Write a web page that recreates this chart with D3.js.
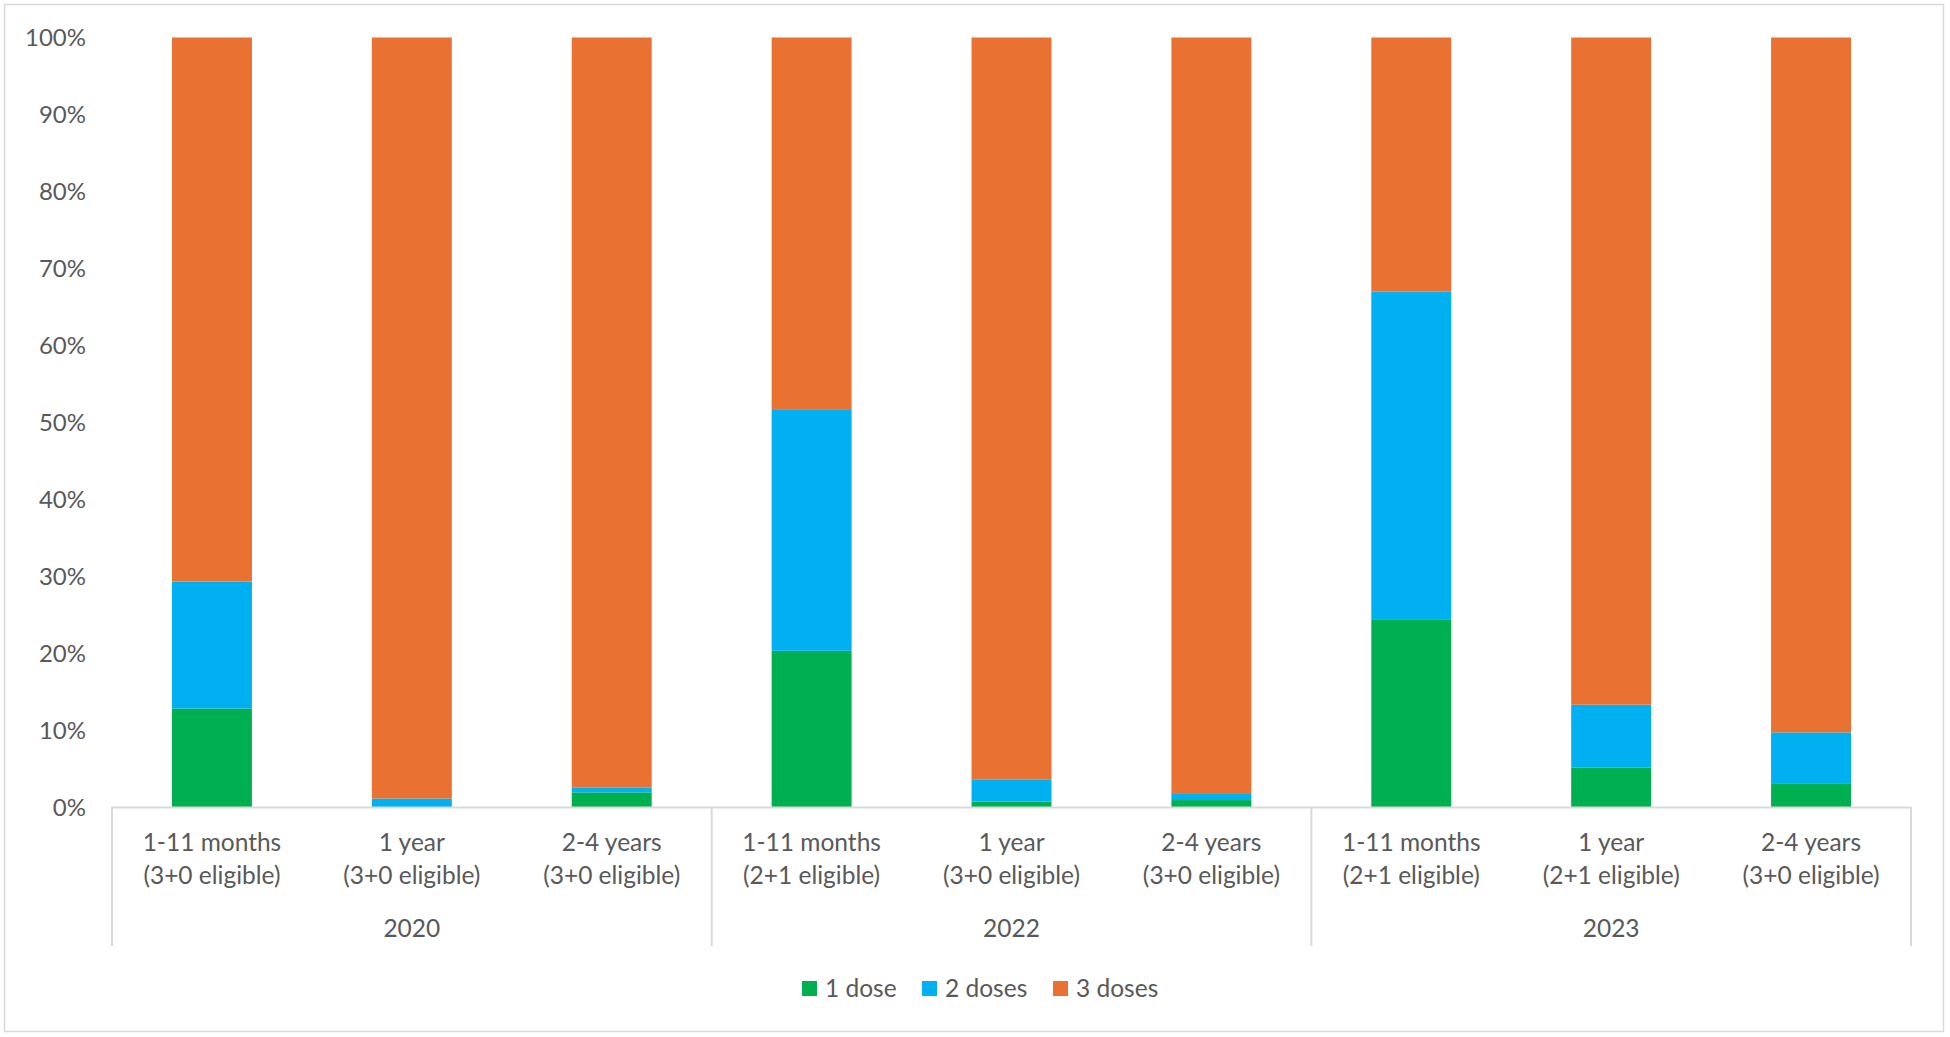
<!DOCTYPE html>
<html>
<head>
<meta charset="utf-8">
<script src="https://cdn.jsdelivr.net/npm/d3@7"></script>
<style>
  body { margin: 0; background: #fff; }
  text { font-family: Lato, "Open Sans", sans-serif; fill: #595959; }
</style>
</head>
<body>
<svg id="chart" width="1950" height="1037"></svg>
<script>
// data (percent of children)
var years = ["2020", "2022", "2023"];
var ageLabels = ["1-11 months", "1 year", "2-4 years",
                 "1-11 months", "1 year", "2-4 years",
                 "1-11 months", "1 year", "2-4 years"];
var eligLabels = ["(3+0 eligible)", "(3+0 eligible)", "(3+0 eligible)",
                  "(2+1 eligible)", "(3+0 eligible)", "(3+0 eligible)",
                  "(2+1 eligible)", "(2+1 eligible)", "(3+0 eligible)"];
var seriesNames = ["1 dose", "2 doses", "3 doses"];
var oneDose   = [12.8, 0.0, 1.9, 20.3, 0.7, 0.9, 24.4, 5.1, 3.0];
var twoDoses  = [16.5, 1.1, 0.6, 31.4, 2.9, 0.9, 42.6, 8.2, 6.7];
var threeDoses = [70.7, 98.9, 97.5, 48.3, 96.4, 98.2, 33.0, 86.7, 90.3];
var yTicks = [0, 0.1, 0.2, 0.3, 0.4, 0.5, 0.6, 0.7, 0.8, 0.9, 1];

var colors = ["#00B050", "#00B0F0", "#E97132"];
var svg = d3.select("#chart");

// outer frame
svg.append("rect")
    .attr("x", 4.5).attr("y", 4.5)
    .attr("width", 1939).attr("height", 1027)
    .attr("fill", "none")
    .attr("stroke", "#d9d9d9")
    .attr("stroke-width", 1.5);

var rows = ageLabels.map(function(a, i) {
    return { key: i, age: a, elig: eligLabels[i],
             s0: oneDose[i] / 100, s1: twoDoses[i] / 100, s2: threeDoses[i] / 100 };
});

var x = d3.scaleBand()
    .domain(rows.map(function(d) { return d.key; }))
    .range([112, 1911])
    .paddingInner(0.6)
    .paddingOuter(0.3);

var y = d3.scaleLinear().domain([0, 1]).range([807, 37.5]);

var stack = d3.stack().keys(["s0", "s1", "s2"]);
var layers = stack(rows);

svg.append("g").selectAll("g")
    .data(layers)
    .enter().append("g")
    .attr("fill", function(d, i) { return colors[i]; })
    .selectAll("rect")
    .data(function(d) { return d; })
    .enter().append("rect")
    .attr("x", function(d) { return x(d.data.key); })
    .attr("width", x.bandwidth())
    .attr("y", function(d) { return y(d[1]); })
    .attr("height", function(d) { return y(d[0]) - y(d[1]); });

// y axis labels
svg.append("g").selectAll("text")
    .data(yTicks)
    .enter().append("text")
    .attr("x", 86)
    .attr("y", function(d) { return y(d); })
    .attr("dy", "0.36em")
    .attr("text-anchor", "end")
    .style("font-size", "24px")
    .text(d3.format(".0%"));

// category axis: baseline + group separators
var step = x.step();
svg.append("line")
    .attr("x1", 112).attr("x2", 1911)
    .attr("y1", 807.5).attr("y2", 807.5)
    .attr("stroke", "#d9d9d9").attr("stroke-width", 2);

var seps = d3.range(0, years.length + 1).map(function(i) { return 112 + i * 3 * step; });
svg.append("g").selectAll("line")
    .data(seps)
    .enter().append("line")
    .attr("x1", function(d) { return d; }).attr("x2", function(d) { return d; })
    .attr("y1", 807).attr("y2", 946)
    .attr("stroke", "#d9d9d9").attr("stroke-width", 2);

var cat = svg.append("g").selectAll("text")
    .data(rows)
    .enter().append("text")
    .attr("text-anchor", "middle")
    .style("font-size", "24.5px");
cat.append("tspan")
    .attr("x", function(d) { return x(d.key) + x.bandwidth() / 2; })
    .attr("y", 851)
    .text(function(d) { return d.age; });
cat.append("tspan")
    .attr("x", function(d) { return x(d.key) + x.bandwidth() / 2; })
    .attr("y", 884)
    .text(function(d) { return d.elig; });

svg.append("g").selectAll("text")
    .data(years)
    .enter().append("text")
    .attr("x", function(d, i) { return 112 + (i * 3 + 1.5) * step; })
    .attr("y", 937)
    .attr("text-anchor", "middle")
    .style("font-size", "24.5px")
    .text(function(d) { return d; });

// legend
var legendX = [802, 922, 1053];
var legend = svg.append("g").selectAll("g")
    .data(seriesNames)
    .enter().append("g")
    .attr("transform", function(d, i) { return "translate(" + legendX[i] + ",981)"; });
legend.append("rect")
    .attr("width", 15).attr("height", 15)
    .attr("fill", function(d, i) { return colors[i]; });
legend.append("text")
    .attr("x", 23)
    .attr("y", 7.5)
    .attr("dy", "0.36em")
    .style("font-size", "24.5px")
    .text(function(d) { return d; });
</script>
</body>
</html>
